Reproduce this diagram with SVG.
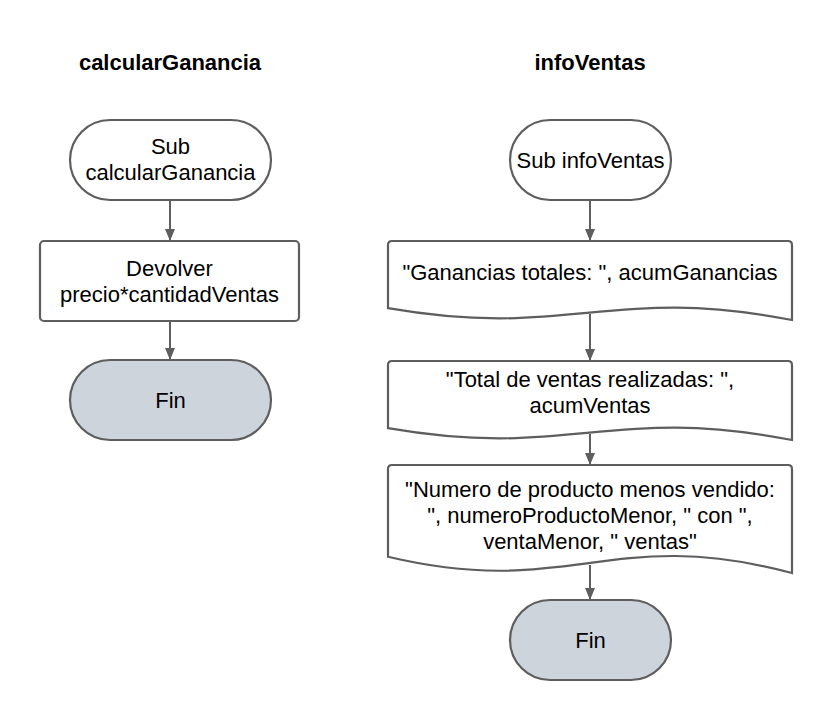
<svg xmlns="http://www.w3.org/2000/svg" width="831" height="720" viewBox="0 0 831 720">
  <style>
    .shape { fill: #ffffff; stroke: #5e5e5e; stroke-width: 2.2; }
    .end { fill: #ced4dc; stroke: #5e5e5e; stroke-width: 2.2; }
    .lbl { font-family: "Liberation Sans", Arial, sans-serif; font-size: 22px; fill: #000; text-anchor: middle; }
    .title { font-family: "Liberation Sans", Arial, sans-serif; font-size: 22px; font-weight: bold; fill: #000; text-anchor: middle; }
    .conn { stroke: #5e5e5e; stroke-width: 2; fill: none; marker-end: url(#arrow); }
  </style>
  <defs>
    <marker id="arrow" viewBox="0 0 12 10" markerWidth="12" markerHeight="10" refX="12" refY="5" orient="auto" markerUnits="userSpaceOnUse">
      <path d="M0,0 L12,5 L0,10 Z" fill="#5e5e5e"/>
    </marker>
  </defs>
  <rect width="831" height="720" fill="#ffffff"/>

  <text class="title" x="170" y="70">calcularGanancia</text>
  <text class="title" x="590" y="70">infoVentas</text>

  <g id="connectors">
    <line class="conn" x1="170" y1="201" x2="170" y2="241"/>
    <line class="conn" x1="170" y1="321" x2="170" y2="360"/>
    <line class="conn" x1="590" y1="201" x2="590" y2="241"/>
    <line class="conn" x1="590" y1="314" x2="590" y2="361"/>
    <line class="conn" x1="590" y1="434" x2="590" y2="465"/>
    <line class="conn" x1="590" y1="565" x2="590" y2="600"/>
  </g>

  <g id="sub-calcularGanancia">
    <rect class="shape" x="70" y="120" width="201" height="80" rx="40" ry="40"/>
    <text class="lbl" x="170.5" y="154">Sub</text>
    <text class="lbl" x="170.5" y="180">calcularGanancia</text>
  </g>

  <g id="devolver">
    <rect class="shape" x="40" y="241" width="259" height="80" rx="4" ry="4"/>
    <text class="lbl" x="169.5" y="276">Devolver</text>
    <text class="lbl" x="169.5" y="302">precio*cantidadVentas</text>
  </g>

  <g id="fin-left">
    <rect class="end" x="70" y="360" width="201" height="80" rx="40" ry="40"/>
    <text class="lbl" x="170.5" y="408">Fin</text>
  </g>

  <g id="sub-infoVentas">
    <rect class="shape" x="510" y="120" width="161" height="80" rx="40" ry="40"/>
    <text class="lbl" x="590.5" y="168">Sub infoVentas</text>
  </g>

  <g id="doc-ganancias">
    <path class="shape" d="M388,245 Q388,241 392,241 L788,241 Q792,241 792,245 L792,320 C610.2,284.5 569.8,339.8 388,308.2 Z"/>
    <text class="lbl" x="590" y="280">"Ganancias totales: ", acumGanancias</text>
  </g>

  <g id="doc-ventas">
    <path class="shape" d="M388,365 Q388,361 392,361 L788,361 Q792,361 792,365 L792,440 C610.2,404.5 569.8,459.8 388,428.2 Z"/>
    <text class="lbl" x="590" y="387">"Total de ventas realizadas: ",</text>
    <text class="lbl" x="590" y="413">acumVentas</text>
  </g>

  <g id="doc-producto">
    <path class="shape" d="M388,469 Q388,465 392,465 L788,465 Q792,465 792,469 L792,573 C610.2,524.4 569.8,600 388,556.8 Z"/>
    <text class="lbl" x="590" y="497">"Numero de producto menos vendido:</text>
    <text class="lbl" x="590" y="523">", numeroProductoMenor, " con ",</text>
    <text class="lbl" x="590" y="549">ventaMenor, " ventas"</text>
  </g>

  <g id="fin-right">
    <rect class="end" x="510" y="600" width="161" height="80" rx="40" ry="40"/>
    <text class="lbl" x="590.5" y="648">Fin</text>
  </g>
</svg>
